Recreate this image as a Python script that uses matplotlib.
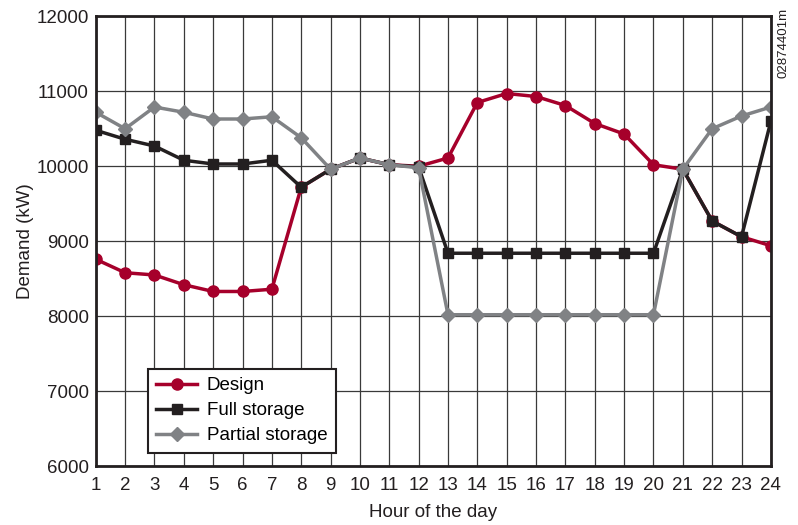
import matplotlib
matplotlib.use("Agg")
import matplotlib.pyplot as plt

plt.rcParams["font.family"] = ["Liberation Sans", "DejaVu Sans"]

hours = list(range(1, 25))
design = [8760, 8580, 8550, 8420, 8330, 8330, 8360, 9720, 9960, 10110, 10020, 10000,
          10110, 10850, 10970, 10930, 10810, 10570, 10430, 10020, 9960, 9270, 9060, 8940]
full_storage = [10480, 10360, 10270, 10080, 10030, 10030, 10080, 9720, 9960, 10110, 10020, 9990,
                8840, 8840, 8840, 8840, 8840, 8840, 8840, 8840, 9960, 9270, 9060, 10600]
partial_storage = [10720, 10500, 10790, 10720, 10630, 10630, 10660, 10380, 9960, 10110, 10020, 9980,
                   8020, 8020, 8020, 8020, 8020, 8020, 8020, 8020, 9960, 10500, 10670, 10790]
y_ticks = [6000, 7000, 8000, 9000, 10000, 11000, 12000]

fig = plt.figure(figsize=(7.98, 5.25), dpi=100)
ax = fig.add_axes([0.12, 0.112, 0.846, 0.857])

ax.plot(hours, design, color="#a6002b", lw=2.5, marker="o", ms=8, label="Design", zorder=3)
ax.plot(hours, full_storage, color="#231f20", lw=2.5, marker="s", ms=7.5, label="Full storage", zorder=4)
ax.plot(hours, partial_storage, color="#808285", lw=2.5, marker="D", ms=7.5, label="Partial storage", zorder=5)

ax.set_xlim(1, 24)
ax.set_ylim(6000, 12000)
ax.set_xticks(hours)
ax.set_yticks(y_ticks)
ax.tick_params(axis="both", length=0, labelsize=13.5, colors="#231f20")
ax.tick_params(axis="x", pad=8)
ax.tick_params(axis="y", pad=5)
ax.grid(True, color="#3a3a3a", lw=0.9)
ax.set_axisbelow(True)
for s in ax.spines.values():
    s.set_color("#231f20")
    s.set_linewidth(2)
    s.set_zorder(6)

ax.set_xlabel("Hour of the day", fontsize=13.5, color="#231f20", labelpad=7)
ax.set_ylabel("Demand (kW)", fontsize=13.5, color="#231f20", labelpad=2)

leg = ax.legend(loc="lower left", bbox_to_anchor=(0.077, 0.03), fontsize=13.5, frameon=True,
                fancybox=False, edgecolor="#231f20", framealpha=1, borderpad=0.45,
                handlelength=2.2, labelspacing=0.42, handletextpad=0.5, borderaxespad=0)
leg.get_frame().set_linewidth(1.5)

fig.text(0.982, 0.985, "02874401m", rotation=90, ha="center", va="top", fontsize=9.5, color="#231f20")

fig.savefig("out.png", dpi=100)
